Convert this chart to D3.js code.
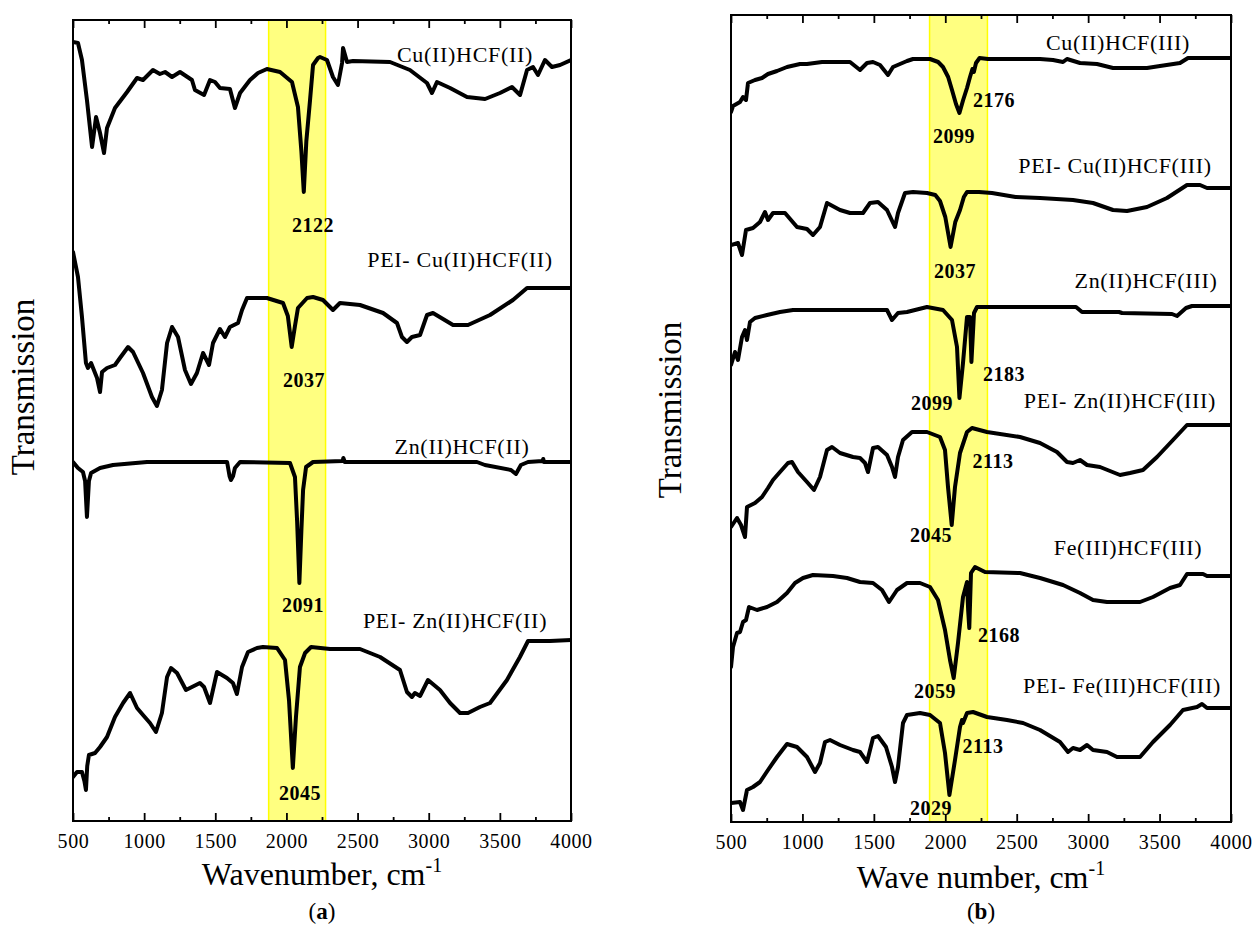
<!DOCTYPE html>
<html><head><meta charset="utf-8">
<script src="https://cdn.jsdelivr.net/npm/d3@7"></script>
<style>
body{margin:0;background:#fff;}
svg{display:block;}
text{font-family:"Liberation Serif","Times New Roman",serif;fill:#000;}
</style></head><body>
<svg id="chart" width="1253" height="934"></svg>
<script>
// ---------- data ----------
const wnTicks = [500,1000,1500,2000,2500,3000,3500,4000];
const wnMinorTicks = [750,1250,1750,2250,2750,3250,3750];

// Panel (a): [wavenumber cm-1, transmission (a.u., offset spectra)]
const specCuIIHCFII = [[500,779],[535,778],[563,761],[598,721],[634,674],[662,704],[690,688],[718,668],[739,693],[795,713],[880,729],[950,743],[992,741],[1062,751],[1111,747],[1147,749],[1196,744],[1252,749],[1336,741],[1357,731],[1421,726],[1463,741],[1498,739],[1533,733],[1603,732],[1638,713],[1674,728],[1744,741],[1800,748],[1863,752],[1955,749],[2039,739],[2081,714],[2105,670],[2122,629],[2140,680],[2166,721],[2187,756],[2222,763],[2236,764],[2285,761],[2327,744],[2362,736],[2391,758],[2398,773],[2426,759],[2468,760],[2728,759],[2868,751],[2988,738],[3023,728],[3058,739],[3150,733],[3269,724],[3396,722],[3501,728],[3585,734],[3642,726],[3691,751],[3733,754],[3768,746],[3817,761],[3866,754],[3923,756],[4000,761]];
const specPEICuIIHCFII = [[500,569],[535,544],[563,504],[591,458],[605,453],[627,458],[669,443],[690,429],[704,449],[739,453],[795,456],[830,463],[887,474],[922,469],[992,448],[1055,424],[1090,415],[1125,431],[1161,478],[1196,494],[1238,484],[1287,451],[1329,437],[1371,448],[1414,468],[1456,456],[1484,478],[1533,492],[1568,484],[1603,494],[1660,498],[1688,511],[1723,523],[1863,523],[1976,518],[2010,505],[2037,474],[2060,495],[2081,513],[2145,523],[2187,524],[2257,521],[2327,511],[2376,518],[2517,516],[2679,508],[2777,498],[2812,484],[2847,479],[2882,484],[2939,486],[2988,506],[3030,508],[3171,496],[3276,496],[3431,506],[3592,521],[3691,533],[4000,533]];
const specZnIIHCFII = [[500,359],[535,353],[570,349],[585,340],[598,304],[612,340],[627,348],[690,353],[781,356],[1020,359],[1583,359],[1600,345],[1610,341],[1625,345],[1638,353],[1674,359],[2025,358],[2060,344],[2075,300],[2091,238],[2105,290],[2117,331],[2138,354],[2187,359],[2395,360],[2400,363],[2410,359],[3339,359],[3395,356],[3578,351],[3613,347],[3648,356],[3698,359],[3800,360],[3805,362],[3810,359],[4000,359]];
const specPEIZnIIHCFII = [[500,44],[528,49],[563,49],[580,40],[591,31],[600,55],[612,66],[655,68],[690,74],[739,84],[795,104],[852,118],[901,128],[950,113],[992,106],[1041,98],[1083,89],[1125,108],[1161,144],[1189,153],[1231,148],[1294,131],[1336,134],[1392,138],[1421,134],[1463,118],[1512,149],[1582,143],[1624,138],[1652,127],[1688,154],[1730,169],[1793,173],[1835,174],[1934,173],[1990,161],[2018,121],[2045,53],[2067,104],[2095,154],[2131,168],[2173,174],[2306,172],[2517,172],[2658,164],[2798,151],[2847,129],[2882,124],[2903,128],[2939,125],[2995,141],[3079,131],[3150,118],[3220,108],[3276,108],[3360,114],[3431,118],[3550,141],[3641,164],[3698,180],[3852,180],[4000,181]];

// Panel (b)
const specCuIIHCFIII = [[500,710],[514,716],[563,720],[584,725],[605,722],[619,739],[668,742],[717,744],[759,748],[822,751],[892,755],[983,758],[1032,758],[1137,760],[1333,760],[1403,752],[1452,759],[1494,760],[1543,757],[1599,747],[1634,755],[1732,761],[1774,763],[1893,763],[1950,760],[1984,755],[2020,745],[2047,732],[2075,718],[2099,709],[2125,722],[2152,734],[2173,745],[2190,753],[2200,750],[2215,759],[2240,764],[2299,763],[2663,763],[2754,762],[2824,760],[2852,763],[2943,759],[3062,758],[3174,754],[3412,754],[3503,756],[3643,759],[3699,764],[4000,764]];
const specPEICuIIHCFIII = [[500,577],[549,579],[577,567],[605,592],[654,594],[703,600],[738,610],[759,602],[794,609],[878,609],[962,595],[1032,593],[1074,587],[1123,595],[1172,619],[1263,612],[1333,609],[1424,609],[1473,619],[1529,620],[1592,612],[1648,595],[1669,609],[1718,629],[1774,630],[1872,629],[1930,627],[1963,621],[2000,605],[2037,575],[2070,600],[2103,612],[2130,625],[2152,630],[2236,630],[2327,629],[2492,625],[2663,624],[2894,622],[3034,619],[3174,612],[3272,611],[3412,615],[3552,624],[3692,637],[3783,637],[3832,634],[4000,634]];
const specZnIIHCFIII = [[500,457],[528,470],[549,462],[577,485],[598,492],[612,482],[633,500],[668,504],[752,507],[843,510],[934,512],[1592,512],[1627,502],[1669,509],[1732,510],[1872,515],[1984,512],[2047,502],[2082,475],[2099,424],[2124,459],[2152,505],[2173,505],[2183,460],[2201,509],[2222,515],[2306,515],[2915,515],[2957,510],[3216,510],[3237,509],[3587,508],[3622,506],[3685,514],[3727,516],[4000,516]];
const specPEIZnIIHCFIII = [[500,295],[542,304],[570,297],[598,285],[612,315],[668,319],[717,325],[759,334],[794,342],[843,350],[899,359],[927,360],[969,350],[1032,340],[1081,332],[1123,345],[1172,372],[1207,375],[1263,369],[1354,365],[1403,364],[1438,359],[1459,350],[1494,374],[1529,375],[1592,367],[1627,355],[1648,345],[1669,365],[1704,382],[1767,390],[1872,390],[1963,385],[1998,372],[2019,335],[2045,297],[2068,335],[2103,369],[2152,390],[2187,394],[2292,390],[2523,385],[2663,379],[2782,370],[2852,360],[2894,359],[2943,362],[2992,357],[3083,355],[3223,347],[3293,349],[3384,352],[3482,365],[3594,382],[3692,397],[4000,397]];
const specFeIIIHCFIII = [[500,155],[514,175],[542,189],[563,190],[584,200],[605,202],[626,215],[682,212],[752,215],[822,220],[892,229],[948,239],[1004,244],[1074,247],[1214,246],[1312,244],[1403,240],[1494,239],[1557,232],[1606,220],[1662,232],[1732,239],[1823,239],[1893,235],[1949,222],[1998,192],[2033,162],[2059,144],[2089,179],[2124,225],[2152,240],[2160,212],[2168,194],[2180,249],[2208,255],[2278,250],[2523,249],[2663,244],[2824,237],[2943,229],[3034,222],[3132,220],[3363,220],[3454,225],[3573,234],[3643,237],[3692,248],[3804,248],[3832,246],[4000,246]];
const specPEIFeIIIHCFIII = [[500,19],[563,20],[584,12],[612,32],[654,35],[703,40],[759,52],[822,65],[892,78],[962,75],[1032,65],[1088,50],[1123,59],[1158,80],[1193,82],[1263,77],[1354,72],[1403,70],[1452,60],[1494,84],[1529,86],[1585,75],[1627,55],[1648,40],[1669,55],[1704,99],[1732,107],[1823,109],[1893,107],[1963,99],[1998,69],[2029,27],[2068,62],[2103,95],[2117,102],[2124,99],[2152,109],[2194,110],[2292,105],[2432,102],[2544,99],[2663,92],[2803,80],[2859,70],[2894,74],[2943,72],[2992,77],[3034,72],[3132,70],[3202,65],[3363,65],[3454,80],[3573,97],[3664,112],[3762,115],[3797,118],[3832,114],[4000,114]];

const seriesNamesA = ["Cu(II)HCF(II)","PEI- Cu(II)HCF(II)","Zn(II)HCF(II)","PEI- Zn(II)HCF(II)"];
const seriesNamesB = ["Cu(II)HCF(III)","PEI- Cu(II)HCF(III)","Zn(II)HCF(III)","PEI- Zn(II)HCF(III)","Fe(III)HCF(III)","PEI- Fe(III)HCF(III)"];
// label anchors in data units [wavenumber, transmission]
const nameAnchorsA = [[3255,759],[3220,554],[3234,367],[3185,193]];
const nameAnchorsB = [[3209,772],[3188,649],[3405,534],[3223,414],[3279,267],[3237,129]];
// peak annotations: [text, wavenumber anchor, transmission anchor]
const peakLabelsA = [["2122",2187,589],["2037",2123,434],["2091",2117,209],["2045",2095,21]];
const peakLabelsB = [["2099",2061,679],["2176",2341,715],["2037",2068,544],["2099",1907,412],["2183",2411,441],["2113",2334,354],["2045",1900,280],["2059",1928,124],["2168",2376,180],["2029",1900,7],["2113",2264,69]];
const bandA = [1875,2275];
const bandB = [1890,2295];

// ---------- layout ----------
const panels = [
  {box:{left:73,right:571,top:20,bottom:821}, yMax:801, band:bandA,
   series:[specCuIIHCFII,specPEICuIIHCFII,specZnIIHCFII,specPEIZnIIHCFII],
   names:seriesNamesA, nameAnchors:nameAnchorsA, peaks:peakLabelsA,
   xTitle:"Wavenumber, cm", tag:"a", yTitleX:34, yTitleY:387, xTitleY:885, tagY:919},
  {box:{left:731,right:1231,top:15,bottom:822}, yMax:807, band:bandB,
   series:[specCuIIHCFIII,specPEICuIIHCFIII,specZnIIHCFIII,specPEIZnIIHCFIII,specFeIIIHCFIII,specPEIFeIIIHCFIII],
   names:seriesNamesB, nameAnchors:nameAnchorsB, peaks:peakLabelsB,
   xTitle:"Wave number, cm", tag:"b", yTitleX:681, yTitleY:410, xTitleY:888, tagY:919}
];

const svg = d3.select("#chart");

panels.forEach((p,i)=>{
  const b = p.box;
  const x = d3.scaleLinear().domain([500,4000]).range([b.left,b.right]);
  const y = d3.scaleLinear().domain([0,p.yMax]).range([b.bottom,b.top]);
  const g = svg.append("g");

  const clipId = "clip"+i;
  svg.append("clipPath").attr("id",clipId).append("rect")
    .attr("x",b.left).attr("y",b.top).attr("width",b.right-b.left).attr("height",b.bottom-b.top);

  // highlight band
  g.append("rect")
    .attr("x",x(p.band[0])).attr("y",b.top)
    .attr("width",x(p.band[1])-x(p.band[0])).attr("height",b.bottom-b.top)
    .attr("fill","#ffff80").attr("stroke","#ffff00").attr("stroke-width",1.5);

  const mkAxis = (ax, vals, size, labels) =>
    ax(x).tickValues(vals).tickSize(size).tickFormat(labels ? d3.format("d") : "");
  const bottomMajor = g.append("g").attr("transform",`translate(0,${b.bottom})`).call(mkAxis(d3.axisBottom, wnTicks, -8, true));
  g.append("g").attr("transform",`translate(0,${b.bottom})`).call(mkAxis(d3.axisBottom, wnMinorTicks, -4, false));
  g.append("g").attr("transform",`translate(0,${b.top})`).call(mkAxis(d3.axisTop, wnTicks, -8, false));
  g.append("g").attr("transform",`translate(0,${b.top})`).call(mkAxis(d3.axisTop, wnMinorTicks, -4, false));
  g.selectAll(".domain").remove();
  g.selectAll(".tick line").attr("stroke","#000").attr("stroke-width",1.8);
  bottomMajor.selectAll(".tick text")
    .attr("y",27).attr("dy",0)
    .style("font-family",'"Liberation Serif",serif').style("font-size","20px")
    .style("letter-spacing","0.6px").attr("fill","#000");

  // spectra
  const line = d3.line().x(d=>x(d[0])).y(d=>y(d[1]));
  g.append("g").attr("clip-path",`url(#${clipId})`)
    .selectAll("path").data(p.series).join("path")
    .attr("d",line).attr("fill","none").attr("stroke","#000")
    .attr("stroke-width",4).attr("stroke-linejoin","round").attr("stroke-linecap","round");

  // frame
  g.append("rect").attr("x",b.left).attr("y",b.top)
    .attr("width",b.right-b.left).attr("height",b.bottom-b.top)
    .attr("fill","none").attr("stroke","#000").attr("stroke-width",2);

  // series names
  g.selectAll("text.name").data(p.names).join("text").attr("class","name")
    .attr("x",(d,k)=>x(p.nameAnchors[k][0])).attr("y",(d,k)=>y(p.nameAnchors[k][1]))
    .attr("text-anchor","middle").style("font-size","22px").style("letter-spacing","0.7px")
    .text(d=>d);

  // peak labels
  g.selectAll("text.peak").data(p.peaks).join("text").attr("class","peak")
    .attr("x",d=>x(d[1])).attr("y",d=>y(d[2]))
    .attr("text-anchor","middle").style("font-size","20px").style("font-weight","bold")
    .style("letter-spacing","0.5px").text(d=>d[0]);

  // y title
  g.append("text").attr("transform",`translate(${p.yTitleX},${p.yTitleY}) rotate(-90)`)
    .attr("text-anchor","middle").style("font-size","33px").text("Transmission");

  // x title
  const cx = (b.left+b.right)/2;
  const xt = g.append("text").attr("x",cx).attr("y",p.xTitleY).attr("text-anchor","middle").style("font-size","32px");
  xt.append("tspan").text(p.xTitle);
  xt.append("tspan").attr("dy",-13).style("font-size","20px").text("-1");

  // panel tag
  const tg = g.append("text").attr("x",cx).attr("y",p.tagY).attr("text-anchor","middle").style("font-size","23px");
  tg.append("tspan").text("(");
  tg.append("tspan").style("font-weight","bold").text(p.tag);
  tg.append("tspan").text(")");
});
</script>
</body></html>
